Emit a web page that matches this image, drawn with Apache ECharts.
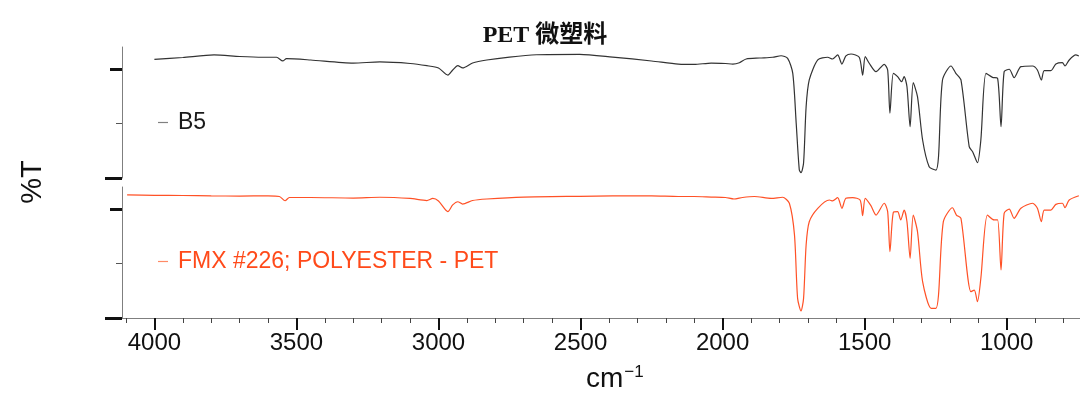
<!DOCTYPE html>
<html>
<head>
<meta charset="utf-8">
<script src="https://cdn.jsdelivr.net/npm/echarts@6/dist/echarts.min.js"></script>
<style>
html,body{margin:0;padding:0;background:#fff;}
#chart{width:1080px;height:394px;}
</style>
</head>
<body>
<div id="chart"></div>
<script>
// ---- data (wavenumber cm^-1, %T) ----
const titleText = 'PET 微塑料';
const seriesNames = ['B5', 'FMX #226; POLYESTER - PET'];
const majorTicks = [4000, 3500, 3000, 2500, 2000, 1500, 1000];
const minorTicks = [4100, 3900, 3800, 3700, 3600, 3400, 3300, 3200, 3100, 2900, 2800, 2700, 2600,
  2400, 2300, 2200, 2100, 1900, 1800, 1700, 1600, 1400, 1300, 1200, 1100, 900, 800];

const wnB5 = [4000, 3900, 3790, 3700, 3620, 3570, 3548, 3535, 3450, 3300, 3206, 3100, 3041, 3000,
  2967, 2950, 2932, 2915, 2880, 2830, 2750, 2655, 2503, 2387, 2250, 2156, 2100, 2040, 1990, 1964,
  1941, 1917, 1870, 1824, 1794, 1771, 1753, 1741, 1730, 1724, 1715, 1706, 1695, 1665, 1630, 1613,
  1595, 1580, 1566, 1548, 1519, 1507, 1498, 1484, 1460, 1431, 1419, 1411, 1399, 1384, 1370, 1361,
  1351, 1340, 1329, 1314, 1296, 1273, 1249, 1240, 1226, 1196, 1179, 1161, 1132, 1120, 1103, 1091,
  1073, 1050, 1032, 1020, 1009, 991, 974, 950, 909, 892, 878, 868, 845, 827, 804, 795, 780, 757, 746];
const tB5 = [108.7, 110.4, 112.7, 111.3, 110.6, 110.6, 107.2, 109.3, 108.1, 105.3, 106.3, 104.9, 102.9, 100.8,
  94.3, 98.9, 102.9, 100.8, 105.3, 108.1, 110.8, 112.9, 113.3, 110.8, 107.2, 104.4, 104.0, 105.3, 104.9, 104.4,
  105.6, 109.0, 109.9, 110.6, 112.0, 109.6, 95.9, 50.4, 7.3, 4.9, 13.7, 65.3, 89.8, 108.1, 110.6, 109.0,
  112.7, 104.4, 111.8, 113.6, 110.6, 94.3, 111.1, 105.1, 97.4, 104.1, 98.9, 59.3, 95.9, 92.8, 88.2, 92.8,
  83.6, 47.0, 87.3, 74.5, 34.8, 10.4, 7.3, 19.5, 89.8, 102.6, 95.9, 89.8, 28.7, 24.1, 14.0, 34.8,
  95.9, 92.2, 91.3, 47.0, 97.4, 99.6, 91.9, 102.0, 102.6, 98.9, 89.8, 98.3, 98.3, 104.4, 105.6, 102.6, 108.1, 112.7, 111.8];

const wnFMX = [4096, 4000, 3900, 3800, 3700, 3600, 3560, 3540, 3525, 3450, 3300, 3206, 3100, 3041, 3020, 3000,
  2967, 2950, 2932, 2915, 2880, 2830, 2700, 2503, 2387, 2250, 2156, 2100, 2040, 1990, 1960, 1930, 1888,
  1829, 1789, 1765, 1747, 1736, 1724, 1715, 1706, 1695, 1665, 1624, 1613, 1595, 1580, 1566, 1542, 1516,
  1507, 1498, 1478, 1460, 1431, 1419, 1411, 1399, 1384, 1373, 1361, 1351, 1340, 1329, 1314, 1296, 1266,
  1249, 1240, 1223, 1191, 1177, 1161, 1126, 1114, 1103, 1091, 1068, 1044, 1032, 1020, 1009, 991, 974,
  950, 909, 892, 878, 868, 845, 827, 804, 795, 780, 746];
const tFMX = [112.7, 112.4, 112.2, 111.9, 111.7, 111.9, 111.3, 107.4, 110.4, 110.4, 109.9, 110.6, 109.5, 107.6, 109.5, 107.2,
  97.5, 103.6, 106.5, 104.4, 107.6, 109.0, 110.8, 111.5, 111.8, 111.8, 111.3, 111.3, 110.8, 110.4, 109.0, 110.4, 111.3,
  109.6, 110.6, 105.1, 76.1, 18.0, 6.4, 18.0, 66.9, 88.2, 100.5, 108.1, 107.2, 110.2, 100.5, 109.6, 110.2, 108.1,
  93.7, 109.6, 102.9, 94.3, 105.1, 97.4, 60.7, 96.8, 97.4, 89.8, 98.9, 88.2, 54.7, 94.3, 79.1, 33.3, 8.9,
  8.9, 21.1, 88.2, 101.0, 94.3, 91.3, 24.1, 25.6, 14.9, 36.4, 94.3, 89.8, 89.8, 44.0, 95.9, 99.8, 91.3,
  100.5, 105.1, 100.5, 88.2, 98.9, 98.9, 104.1, 105.1, 101.0, 108.1, 112.0];

const dataB5 = wnB5.map((w, i) => [w, tB5[i]]);
const dataFMX = wnFMX.map((w, i) => [w, tFMX[i]]);

const FONT = "'Liberation Sans', Arial, 'Noto Sans CJK SC', sans-serif";
const X_MIN = 742, X_MAX = 4114;
const Y_MIN = 0, Y_MAX = 120;

function hiddenX(grid) {
  return { type: 'value', gridIndex: grid, inverse: true, min: X_MIN, max: X_MAX, show: false };
}
function yAx(grid, ticks, len, width, color, showLine) {
  return {
    type: 'value', gridIndex: grid, position: 'left', min: Y_MIN, max: Y_MAX,
    axisLine: { show: showLine, lineStyle: { color: '#7f7f7f', width: 1 } },
    axisTick: { show: true, customValues: ticks, length: len, lineStyle: { color: color, width: width } },
    axisLabel: { show: false },
    splitLine: { show: false }
  };
}

const chart = echarts.init(document.getElementById('chart'), null, { renderer: 'canvas' });
chart.setOption({
  animation: false,
  backgroundColor: '#ffffff',
  title: {
    text: titleText, left: 540, top: 19, textAlign: 'center',
    textStyle: { fontFamily: "'Liberation Serif', 'Times New Roman', 'Noto Sans CJK SC', serif", fontWeight: 'bold', fontSize: 24, color: '#111' }
  },
  legend: [
    { data: [{ name: seriesNames[0], itemStyle: { color: '#808080' } }], left: 158, top: 111, padding: 0, icon: 'rect', itemWidth: 10, itemHeight: 1.2, selectedMode: false,
      textStyle: { fontFamily: FONT, fontSize: 23, color: '#1a1a1a', padding: [0, 0, 0, 5] } },
    { data: [{ name: seriesNames[1], itemStyle: { color: '#ff8a66' } }], left: 158, top: 250, padding: 0, icon: 'rect', itemWidth: 10, itemHeight: 1.2, selectedMode: false,
      textStyle: { fontFamily: FONT, fontSize: 23, color: '#ff4a1a', padding: [0, 0, 0, 5] } }
  ],
  grid: [
    { left: 122, right: 0, top: 47, height: 131 },
    { left: 122, right: 0, top: 187, height: 131 }
  ],
  xAxis: [
    hiddenX(0),
    { type: 'value', gridIndex: 1, position: 'bottom', inverse: true, min: X_MIN, max: X_MAX,
      axisLine: { show: true, lineStyle: { color: '#7f7f7f', width: 1 } },
      axisTick: { show: true, customValues: majorTicks, length: 12, lineStyle: { color: '#111', width: 2 } },
      axisLabel: { show: true, customValues: majorTicks, formatter: v => String(v), fontFamily: FONT, fontSize: 24, color: '#111', margin: 13 },
      splitLine: { show: false } },
    { type: 'value', gridIndex: 1, position: 'bottom', inverse: true, min: X_MIN, max: X_MAX,
      axisLine: { show: false },
      axisTick: { show: true, customValues: minorTicks, length: 5, lineStyle: { color: '#444', width: 1 } },
      axisLabel: { show: false },
      splitLine: { show: false } }
  ],
  yAxis: [
    yAx(0, [100], 12, 3, '#111', true),
    yAx(0, [0], 17, 3, '#111', false),
    yAx(0, [50], 6, 1, '#555', false),
    yAx(1, [100], 12, 3, '#111', true),
    yAx(1, [0], 17, 3, '#111', false),
    yAx(1, [50], 6, 1, '#555', false)
  ],
  graphic: [
    { type: 'text', rotation: Math.PI / 2,
      style: { text: '%T', fontFamily: FONT, fontSize: 29, fill: '#111', align: 'center', verticalAlign: 'middle' },
      x: 33, y: 182 },
    { type: 'text', x: 586, y: 364,
      style: { text: 'cm{s|−1}', fontFamily: FONT, fontSize: 28, fill: '#111',
        rich: { s: { fontFamily: FONT, fontSize: 17, fill: '#111', padding: [0, 0, 14, 1] } } } }
  ],
  series: [
    { name: seriesNames[0], type: 'line', xAxisIndex: 0, yAxisIndex: 0, data: dataB5,
      showSymbol: false, smooth: 0.25, lineStyle: { color: '#333333', width: 1.2 }, itemStyle: { color: '#333333' } },
    { name: seriesNames[1], type: 'line', xAxisIndex: 1, yAxisIndex: 3, data: dataFMX,
      showSymbol: false, smooth: 0.25, lineStyle: { color: '#ff5126', width: 1.2 }, itemStyle: { color: '#ff5126' } }
  ]
});
</script>
</body>
</html>
